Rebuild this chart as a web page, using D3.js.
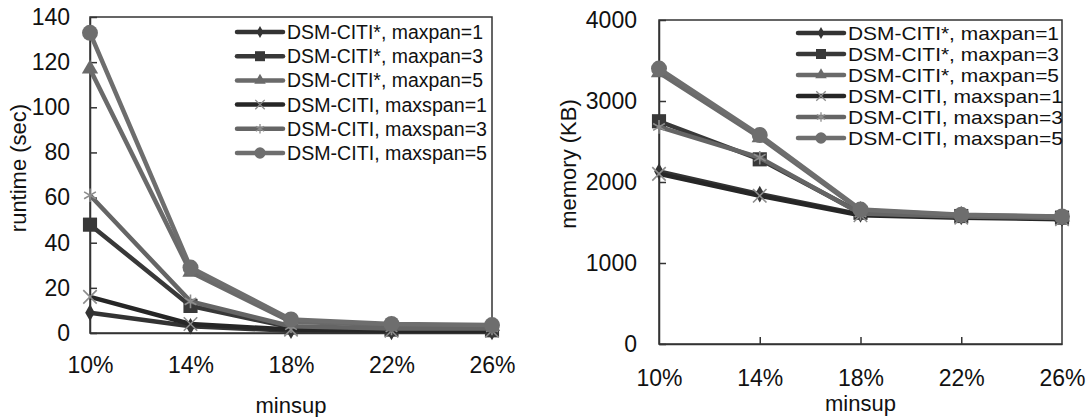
<!DOCTYPE html>
<html>
<head>
<meta charset="utf-8">
<script src="https://cdn.jsdelivr.net/npm/d3@7"></script>
<style>
  body { margin: 0; background: #fff; }
  svg { display: block; font-family: "Liberation Sans", Arial, sans-serif; }
</style>
</head>
<body>
<svg width="1089" height="417"></svg>
<script>
// x categories
var minsup = ["10%", "14%", "18%", "22%", "26%"];

var seriesNames = ["DSM-CITI*, maxpan=1", "DSM-CITI*, maxpan=3", "DSM-CITI*, maxpan=5",
                   "DSM-CITI, maxspan=1", "DSM-CITI, maxspan=3", "DSM-CITI, maxspan=5"];

// runtime (sec)
var runtimeMaxpan1 = [9, 3, 1, 0.5, 0.5];
var runtimeMaxpan3 = [48, 12, 2.5, 1.5, 1.2];
var runtimeMaxpan5 = [117, 27, 5, 3.5, 3];
var runtimeMaxspan1 = [16, 4, 1.5, 1, 1];
var runtimeMaxspan3 = [61, 14, 3, 2, 2];
var runtimeMaxspan5 = [133, 29, 6, 4, 3.5];

// memory (KB)
var memoryMaxpan1 = [2130, 1850, 1600, 1570, 1550];
var memoryMaxpan3 = [2750, 2280, 1620, 1580, 1560];
var memoryMaxpan5 = [3350, 2550, 1650, 1590, 1570];
var memoryMaxspan1 = [2100, 1830, 1590, 1560, 1540];
var memoryMaxspan3 = [2680, 2300, 1610, 1575, 1555];
var memoryMaxspan5 = [3400, 2580, 1660, 1595, 1575];

var runtimeTicks = [0, 20, 40, 60, 80, 100, 120, 140];
var memoryTicks = [0, 1000, 2000, 3000, 4000];

// look of each series: line colour, marker
var styles = [
  { color: "#333", symbol: d3.symbolDiamond, size: 80, stroke: false },
  { color: "#383838", symbol: d3.symbolSquare, size: 200, stroke: false },
  { color: "#6a6a6a", symbol: d3.symbolTriangle, size: 115, stroke: false },
  { color: "#262626", symbol: d3.symbolX, size: 120, stroke: true },
  { color: "#656565", symbol: d3.symbolAsterisk, size: 130, stroke: true },
  { color: "#6e6e6e", symbol: d3.symbolCircle, size: 200, stroke: false }
];

var svg = d3.select("svg");

function drawChart(opt) {
  var g = svg.append("g");

  var x = d3.scalePoint().domain(minsup).range([opt.left, opt.right]);
  var y = d3.scaleLinear().domain([0, opt.max]).range([opt.bottom, opt.top]);

  // frame
  g.append("rect")
    .attr("x", opt.left).attr("y", opt.top)
    .attr("width", opt.right - opt.left).attr("height", opt.bottom - opt.top)
    .attr("fill", "none").attr("stroke", "#333").attr("stroke-width", 1.5);

  var yAxis = g.append("g")
    .attr("transform", "translate(" + opt.left + ",0)")
    .call(d3.axisLeft(y).tickValues(opt.ticks).tickFormat(d3.format("d"))
      .tickSizeInner(-7).tickSizeOuter(0).tickPadding(opt.yPad));
  var xAxis = g.append("g")
    .attr("transform", "translate(0," + opt.bottom + ")")
    .call(d3.axisBottom(x).tickSizeInner(-7).tickSizeOuter(0).tickPadding(opt.xPad));

  [yAxis, xAxis].forEach(function(a) {
    a.select(".domain").attr("stroke", "#333").attr("stroke-width", 1.5);
    a.selectAll(".tick line").attr("stroke", "#333").attr("stroke-width", 1.5);
    a.selectAll(".tick text").attr("fill", "#111").style("font-size", opt.tickFont + "px");
  });
  xAxis.selectAll(".tick line").filter(function(d, i) { return i === 0 || i === minsup.length - 1; }).remove();

  // axis titles
  g.append("text")
    .attr("transform", "translate(" + opt.yTitleX + "," + opt.yTitleY + ") rotate(-90)")
    .attr("text-anchor", "middle").attr("dominant-baseline", "central")
    .style("font-size", opt.titleFont + "px").attr("fill", "#111")
    .text(opt.yTitle);
  g.append("text")
    .attr("x", (opt.left + opt.right) / 2).attr("y", opt.xTitleY)
    .attr("text-anchor", "middle").attr("dominant-baseline", "central")
    .style("font-size", opt.titleFont + "px").attr("fill", "#111")
    .text("minsup");

  var line = d3.line()
    .x(function(d, i) { return x(minsup[i]); })
    .y(function(d) { return y(d); });

  opt.series.forEach(function(values, k) {
    var st = styles[k];
    g.append("path").datum(values)
      .attr("d", line).attr("fill", "none")
      .attr("stroke", st.color).attr("stroke-width", 4.5);
    g.selectAll(null).data(values).enter().append("path")
      .attr("transform", function(d, i) { return "translate(" + x(minsup[i]) + "," + y(d) + ")"; })
      .attr("d", d3.symbol(st.symbol, st.size))
      .attr("fill", st.stroke ? "none" : st.color)
      .attr("stroke", st.stroke ? "#8c8c8c" : "none")
      .attr("stroke-width", 1.6);
  });

  // legend
  var leg = g.append("g");
  seriesNames.forEach(function(name, k) {
    var st = styles[k];
    var ly = opt.legY + k * opt.legStep;
    leg.append("line")
      .attr("x1", opt.legX).attr("x2", opt.legX + 46)
      .attr("y1", ly).attr("y2", ly)
      .attr("stroke", st.color).attr("stroke-width", 4.5).attr("stroke-linecap", "round");
    leg.append("path")
      .attr("transform", "translate(" + (opt.legX + 23) + "," + ly + ")")
      .attr("d", d3.symbol(st.symbol, st.size * 0.5))
      .attr("fill", st.stroke ? "none" : st.color)
      .attr("stroke", st.stroke ? "#8c8c8c" : "none")
      .attr("stroke-width", 1.3);
    leg.append("text")
      .attr("x", opt.legX + 50).attr("y", ly)
      .attr("dominant-baseline", "central")
      .attr("textLength", opt.legTextLen[k]).attr("lengthAdjust", "spacingAndGlyphs")
      .style("font-size", opt.legFont + "px").attr("fill", "#111")
      .text(name);
  });
}

drawChart({
  left: 90, right: 492, top: 17, bottom: 333, max: 140, ticks: runtimeTicks,
  yPad: 20, xPad: 24, tickFont: 23, titleFont: 22,
  yTitle: "runtime (sec)", yTitleX: 18, yTitleY: 168, xTitleY: 405,
  series: [runtimeMaxpan1, runtimeMaxpan3, runtimeMaxpan5, runtimeMaxspan1, runtimeMaxspan3, runtimeMaxspan5],
  legX: 237, legY: 32, legStep: 24.2, legFont: 20,
  legTextLen: [196, 196, 196, 200, 200, 200]
});

drawChart({
  left: 659, right: 1062, top: 20, bottom: 344, max: 4000, ticks: memoryTicks,
  yPad: 22, xPad: 26, tickFont: 23, titleFont: 22,
  yTitle: "memory (KB)", yTitleX: 568, yTitleY: 164, xTitleY: 403,
  series: [memoryMaxpan1, memoryMaxpan3, memoryMaxpan5, memoryMaxspan1, memoryMaxspan3, memoryMaxspan5],
  legX: 798, legY: 33, legStep: 21, legFont: 19,
  legTextLen: [211, 211, 211, 215, 215, 215]
});
</script>
</body>
</html>
